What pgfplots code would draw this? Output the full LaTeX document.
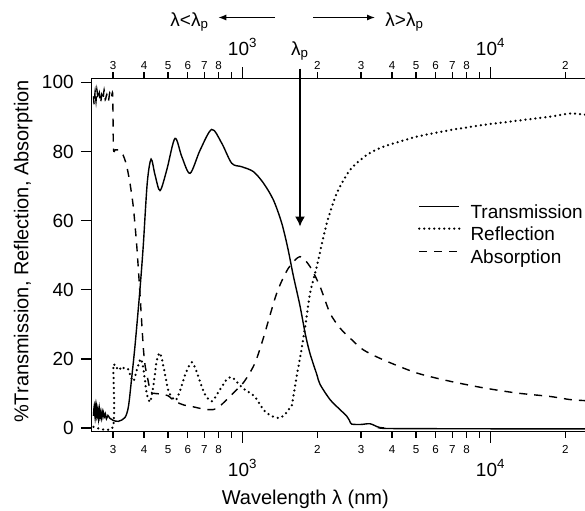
\documentclass[border=0pt]{standalone}
\usepackage{fontspec}
\setmainfont{Liberation Sans}
\usepackage{pgfplots}
\pgfplotsset{compat=1.18}
\usetikzlibrary{arrows.meta}

\newcommand{\fa}{\fontsize{10}{12}\selectfont}
\newcommand{\fb}{\fontsize{9.5}{11}\selectfont}
\newcommand{\fc}{\fontsize{5.8}{7}\selectfont}

\begin{document}
\begin{tikzpicture}
\begin{axis}[at={(0,0)}, anchor=south west, scale only axis,
  width=246.65pt, height=176.7pt, xmode=log,
  xmin=246, xmax=24000, ymin=-1.1, ymax=101.2,
  axis y line*=left,
  tick align=outside,
  axis line style={line width=0.7pt},
  tick style={line width=0.7pt, black},
  xtick={1000,10000}, xticklabels={,},
  minor xtick={300,400,500,600,700,800,900,2000,3000,4000,5000,6000,7000,8000,9000,20000},
  major tick length=5.5pt, minor tick length=3pt,
  ytick={0,20,40,60,80,100},
  yticklabel style={font=\fb},
  /pgf/number format/assume math mode=true,
  ylabel={\%Transmission, Reflection, Absorption},
  xlabel={Wavelength λ (nm)},
  every axis y label/.style={at={(axis description cs:-0.1387,0.51)}, rotate=90, anchor=center, font=\fa},
  every axis x label/.style={at={(axis description cs:0.433,-0.2046)}, anchor=base, font=\fa},
  clip=false,
  legend style={draw=none, fill=none, at={(rel axis cs:0.6615,0.6463)}, anchor=north west,
    inner sep=0pt, outer sep=0pt, row sep=1.75pt, column sep=5pt, font=\fb,
    nodes={inner sep=0pt, text height=7.5pt, text depth=2pt}},
  legend cell align=left,
  legend image code/.code={\draw[#1] (0pt,3.3pt) -- (20pt,3.3pt);},
]
\addplot[black, line width=0.7pt, smooth, tension=0.5] table {
250 3.5
252 6.5
254 2.8
256 7.2
258 3.2
260 5.5
262 2.5
264 5.8
266 3.0
268 4.8
270 2.6
273 5.0
276 3.0
279 4.2
282 2.6
286 3.6
291 2.8
300 2.2
315 1.9
335 3.0
346 6.2
356 14
368 24
385 40
397 52.6
412 70.9
427 77.8
443 73.2
464 68.7
494 74.7
533 83.8
568 78.5
613 73.7
673 80.4
750 86.4
823 82.4
903 76.6
991 75.6
1103 74.2
1211 70.9
1329 66.0
1436 59.3
1520 52
1600 44
1700 35.5
1790 27
1868 21.5
1989 15.5
2050 12.6
2249 8.2
2450 5.5
2627 3.4
2700 2.0
2751 1.1
3000 1.0
3261 1.2
3500 0.3
3690 0.0
4306 -0.2
24000 -0.3
};
\addlegendentry{Transmission}
\addplot[black, line width=1.25pt, line cap=round, dash pattern=on 0pt off 2.5pt, smooth, tension=0.4] table {
250 0.3
300 0.3
301 17.5
305 18
310 17.2
316 17.8
322 17.0
328 17.6
335 17.0
345 17.0
355 14.5
363 13.5
375 17
388 20
398 17
410 10
423 7.5
436 12
450 19.5
464 21.7
480 17.5
500 11
517 9
537 8
560 11
590 16
623 19
650 16.5
700 10
750 7.7
800 10.5
860 14
903 14.7
950 13.2
1000 11.5
1070 10.1
1121 9
1211 5.3
1300 3.5
1391 2.9
1470 3.6
1527 5.3
1576 6.5
1651 15
1729 23
1800 31
1868 39
1988 46.7
2182 59.2
2393 67.9
2708 74.7
3162 79
3690 81.4
5030 84.3
6855 86.2
9337 87.7
12730 88.9
17340 90.1
20880 91
24000 90.7
};
\addlegendentry{Reflection}
\addplot[black, line width=0.7pt, dash pattern=on 4pt off 3.5pt, smooth, tension=0.45] table {
250 96
252 93.5
254 97.5
256 94.5
258 98
261 95
264 97
267 94
270 96.5
273 95
276 97.8
279 95
283 96.5
287 94.5
291 97
295 95.5
299 96.5
301 81
306 80.5
315 80.5
329 79
340 76
351 70.8
362 64
374 52.5
385 39
397 23.6
404 18
412 14.9
425 10.5
440 10
470 9.8
500 9.3
533 7.7
580 6.6
623 6.2
700 5.4
760 5.3
800 6
848 7.7
914 10
990 12.5
1038 14.5
1121 18.8
1211 26
1371 39
1527 46.2
1702 49.6
1868 46.7
2050 40.9
2249 33.2
2468 28.9
2708 26
3064 22.6
3690 19.7
5030 15.9
6855 13.5
9337 11.6
12730 10.1
17340 9.1
20880 8.2
24000 7.9
};
\addlegendentry{Absorption}
% annotations
\draw[line width=0.7pt, -{Latex[length=5pt,width=5pt]}] (axis cs:1702,104) -- (axis cs:1702,58.3);
\node[anchor=base, font=\fb, inner sep=0pt] at (axis cs:1702,107.9) {λ\textsubscript{p}};
\node[anchor=base, font=\fb, inner sep=0pt] at (axis cs:1000,107.9) {10\textsuperscript{3}};
\node[anchor=base, font=\fb, inner sep=0pt] at (axis cs:10000,107.9) {10\textsuperscript{4}};
\node[anchor=base, font=\fb, inner sep=0pt] at (axis cs:1000,-14) {10\textsuperscript{3}};
\node[anchor=base, font=\fb, inner sep=0pt] at (axis cs:10000,-14) {10\textsuperscript{4}};
\draw[line width=0.6pt, -{Latex[length=4pt,width=3pt]}] (axis cs:1350,118.8) -- (axis cs:797,118.8);
\draw[line width=0.6pt, -{Latex[length=4pt,width=3pt]}] (axis cs:1926,118.8) -- (axis cs:3417,118.8);
\node[anchor=base west, font=\fb, inner sep=0pt] at (axis cs:509,116.1) {λ<λ\textsubscript{p}};
\node[anchor=base west, font=\fb, inner sep=0pt] at (axis cs:3748,116.1) {λ>λ\textsubscript{p}};
\end{axis}
% bottom minor labels
\begin{axis}[at={(0,0)}, anchor=south west, scale only axis,
  width=246.65pt, height=176.7pt, xmode=log,
  xmin=246, xmax=24000, ymin=-1.1, ymax=101.2,
  xtick={300,400,500,600,700,800,900,2000,3000,4000,5000,6000,7000,8000,9000,20000},
  xticklabels={3,4,5,6,7,8,{},2,3,4,5,6,7,8,{},2},
  axis y line=none, axis x line*=bottom,
  x axis line style={draw=none}, xtick style={draw=none}, major tick length=0pt,
  xticklabel style={font=\fc, anchor=base, yshift=-10.8pt, inner sep=0pt}]
\end{axis}
% top minor labels
\begin{axis}[at={(0,0)}, anchor=south west, scale only axis,
  width=246.65pt, height=176.7pt, xmode=log,
  xmin=246, xmax=24000, ymin=-1.1, ymax=101.2,
  xtick={300,400,500,600,700,800,900,2000,3000,4000,5000,6000,7000,8000,9000,20000},
  xticklabels={3,4,5,6,7,8,{},2,3,4,5,6,7,8,{},2},
  axis y line=none, axis x line*=top,
  x axis line style={draw=none}, xtick style={draw=none}, major tick length=0pt,
  xticklabel style={font=\fc, anchor=base, yshift=4.5pt, inner sep=0pt}]
\end{axis}
\pgfresetboundingbox
\useasboundingbox (-45.85pt,-39.15pt) rectangle (246.65pt,215.85pt);
\end{tikzpicture}
\end{document}
